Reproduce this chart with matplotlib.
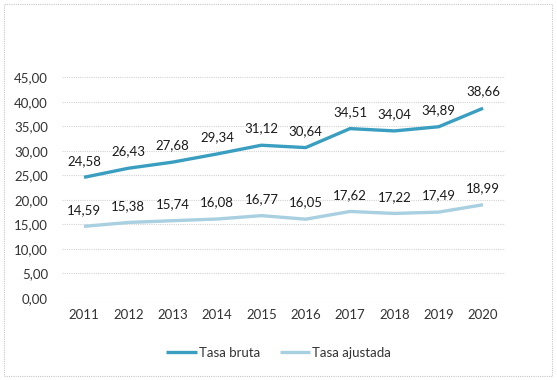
import matplotlib.pyplot as plt
from matplotlib.patches import Rectangle

years = ["2011", "2012", "2013", "2014", "2015", "2016", "2017", "2018", "2019", "2020"]
tasa_bruta = [24.58, 26.43, 27.68, 29.34, 31.12, 30.64, 34.51, 34.04, 34.89, 38.66]
tasa_ajustada = [14.59, 15.38, 15.74, 16.08, 16.77, 16.05, 17.62, 17.22, 17.49, 18.99]

plt.rcParams["font.family"] = ["Lato", "DejaVu Sans"]

fig = plt.figure(figsize=(5.57, 3.80), dpi=100)
ax = fig.add_axes([0.111, 0.216, 0.796, 0.581])

x = range(len(years))
ax.plot(x, tasa_bruta, color="#3a9ec0", lw=2.4, solid_capstyle="butt", label="Tasa bruta")
ax.plot(x, tasa_ajustada, color="#a8d0e0", lw=2.4, solid_capstyle="butt", label="Tasa ajustada")

for xi, v in zip(x, tasa_bruta):
    ax.annotate(f"{v:.2f}".replace(".", ","), (xi, v), xytext=(0, 12),
                textcoords="offset points", ha="center", va="center",
                fontsize=9.5, color="#1a1a1a")
for xi, v in zip(x, tasa_ajustada):
    ax.annotate(f"{v:.2f}".replace(".", ","), (xi, v), xytext=(0, 12),
                textcoords="offset points", ha="center", va="center",
                fontsize=9.5, color="#1a1a1a")

ax.set_xlim(-0.5, len(years) - 0.5)
ax.set_ylim(0, 45)
ax.set_yticks(range(0, 46, 5))
ax.set_yticklabels([f"{t},00" for t in range(0, 46, 5)])
ax.set_xticks(list(x))
ax.set_xticklabels(years)
ax.tick_params(length=0, labelsize=9.5, colors="#333333", pad=8)
ax.tick_params(axis="y", pad=10)
ax.yaxis.grid(True, color="#d4d4d4", lw=0.8, ls=(0, (1, 1)))
ax.set_axisbelow(True)
for s in ax.spines.values():
    s.set_visible(False)

fig.legend(loc="center", bbox_to_anchor=(0.5, 1 - 353 / 380), ncol=2, frameon=False,
           fontsize=9.5, handlelength=2.3, handletextpad=0.15, columnspacing=1.5,
           labelcolor="#333333")

fig.patches.append(Rectangle((4 / 557, 4 / 380), 548 / 557, 372 / 380,
                             transform=fig.transFigure, fill=False,
                             edgecolor="#c8c8c8", lw=0.8, ls=(0, (1, 1))))

fig.savefig("out.png", dpi=100)
